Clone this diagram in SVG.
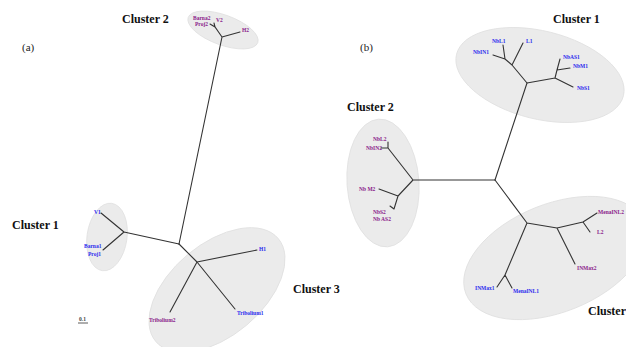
<svg xmlns="http://www.w3.org/2000/svg" width="626" height="347" viewBox="0 0 626 347">
<style>
.bg{fill:#ffffff}
.cl{fill:#ebebeb;stroke:#e0e0e0;stroke-width:0.8}
.br{stroke:#333;stroke-width:1.1;fill:none;stroke-linecap:round}
.ct{font-family:"Liberation Serif",serif;font-weight:bold;font-size:12px;fill:#111}
.pl{font-family:"Liberation Serif",serif;font-size:11px;fill:#222}
.b{font-family:"Liberation Serif",serif;font-weight:bold;font-size:5.5px;fill:#2a2aee}
.p{font-family:"Liberation Serif",serif;font-weight:bold;font-size:5.5px;fill:#8a1a8a}
</style>
<rect class="bg" width="626" height="347"/>
<g id="panel-a">
<text class="pl" x="22" y="51">(a)</text>
<g id="a-cluster2">
<ellipse class="cl" cx="223" cy="30" rx="37" ry="15" transform="rotate(20 223 30)"/>
<text class="ct" x="122" y="23">Cluster 2</text>
<text class="p" x="193" y="20">Barna2</text>
<text class="p" x="195" y="26">Proj2</text>
<text class="p" x="216" y="22">V2</text>
<text class="p" x="242" y="32">H2</text>
</g>
<g id="a-cluster1">
<ellipse class="cl" cx="107" cy="237" rx="20" ry="34" transform="rotate(8 107 237)"/>
<text class="ct" x="12" y="229">Cluster 1</text>
<text class="b" x="94" y="214">V1</text>
<text class="b" x="84" y="248">Barna1</text>
<text class="b" x="88" y="256">Proj1</text>
</g>
<g id="a-cluster3">
<ellipse class="cl" cx="217" cy="290" rx="80" ry="46" transform="rotate(-40 217 290)"/>
<text class="ct" x="293" y="293">Cluster 3</text>
<text class="b" x="259" y="251">H1</text>
<text class="p" x="149" y="322">Tribolium2</text>
<text class="b" x="237" y="315">Tribolium1</text>
</g>
<g id="a-scale">
<text class="b" x="79" y="321" style="fill:#444">0.1</text>
<line x1="78" y1="323" x2="88" y2="323" stroke="#333" stroke-width="0.8"/>
</g>
</g>
<g id="panel-b">
<text class="pl" x="360" y="51">(b)</text>
<g id="b-cluster1">
<ellipse class="cl" cx="540" cy="75" rx="86" ry="44" transform="rotate(14 540 75)"/>
<text class="ct" x="553" y="23">Cluster 1</text>
<text class="b" x="492" y="43">NbL1</text>
<text class="b" x="526" y="43">L1</text>
<text class="b" x="473" y="54">NbIN1</text>
<text class="b" x="563" y="59">NbAS1</text>
<text class="b" x="573" y="68">NbM1</text>
<text class="b" x="577" y="90">NbS1</text>
</g>
<g id="b-cluster2">
<ellipse class="cl" cx="383" cy="183" rx="36" ry="64" transform="rotate(-4 383 183)"/>
<text class="ct" x="347" y="111">Cluster 2</text>
<text class="p" x="373" y="141">NbL2</text>
<text class="p" x="366" y="150">NbIN2</text>
<text class="p" x="359" y="191">Nb M2</text>
<text class="p" x="373" y="214">NbS2</text>
<text class="p" x="373" y="221">Nb AS2</text>
</g>
<g id="b-cluster3">
<ellipse class="cl" cx="555" cy="258" rx="96" ry="54" transform="rotate(-22 555 258)"/>
<text class="ct" x="588" y="315">Cluster 3</text>
<text class="p" x="598" y="214">MenaINL2</text>
<text class="p" x="597" y="234">L2</text>
<text class="p" x="577" y="270">INMax2</text>
<text class="b" x="475" y="290">INMax1</text>
<text class="b" x="513" y="293">MenaINL1</text>
</g>
</g>
<g id="connectors" class="br">
<!-- panel a -->
<path d="M179 244 L222 37 M222 37 L240 32 M222 37 L215 27 L210 24 M215 27 L214 23"/>
<path d="M179 244 L124 232 M124 232 L101 213 M124 232 L103 250"/>
<path d="M179 244 L197 262 M197 262 L257 250 M197 262 L170 312 M197 262 L235 309"/>
<!-- panel b -->
<path d="M495 180 L527 83 M527 83 L512 65 M512 65 L505 59 M505 59 L493 55 M505 59 L503 45 M512 65 L523 43"/>
<path d="M527 83 L555 78 M555 78 L573 87 M555 78 L557 70 M557 70 L560 59 M557 70 L570 68"/>
<path d="M495 180 L413 180 M413 180 L388 148 M388 148 L388 142 M388 148 L381 148 M413 180 L398 196 M398 196 L379 189 M398 196 L394 209 M394 209 L390 206"/>
<path d="M495 180 L527 223 M527 223 L557 228 M557 228 L583 222 M583 222 L597 213 M583 222 L590 232 M557 228 L575 264 M527 223 L505 275 M505 275 L497 287 M505 275 L512 288"/>
</g>
</svg>
